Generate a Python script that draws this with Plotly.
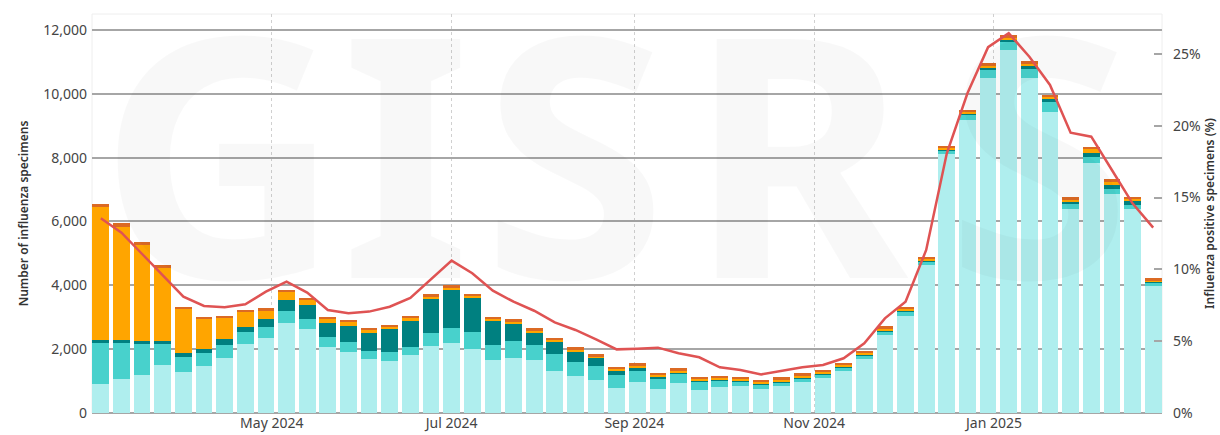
import pandas as pd
import plotly.graph_objects as go

# ---- data (weekly) ----
weeks = pd.date_range("2024-03-04", periods=52, freq="7D")

a_not_subtyped = [909, 1065, 1201, 1493, 1295, 1483, 1723, 2162, 2350, 2830, 2621, 2068, 1911, 1692, 1640, 1807,
                  2109, 2183, 2016, 1660, 1723, 1650, 1326, 1170, 1034, 794, 961, 762, 950, 721, 815, 846,
                  762, 856, 982, 1086, 1305, 1681, 2454, 3049, 4627, 8104, 9180, 10506, 11373, 10506, 9441, 6391,
                  7822, 6861, 6381, 3979]
a_h1n1 = [1295, 1139, 961, 669, 470, 407, 418, 376, 344, 355, 334, 323, 324, 261, 281, 250,
          387, 480, 511, 481, 522, 470, 512, 438, 428, 397, 355, 293, 282, 261, 188, 136,
          136, 115, 104, 125, 126, 105, 105, 126, 104, 125, 156, 261, 240, 261, 303, 178,
          209, 167, 136, 94]
a_h3 = [83, 83, 83, 104, 125, 105, 177, 146, 241, 345, 418, 418, 491, 564, 700, 815,
        1065, 1201, 1066, 741, 554, 397, 407, 334, 272, 135, 104, 83, 42, 31, 41, 21,
        21, 21, 21, 21, 31, 42, 31, 31, 31, 32, 32, 42, 73, 105, 83, 42,
        125, 105, 115, 31]
b_victoria = [4157, 3551, 3008, 2287, 1368, 971, 669, 491, 282, 261, 167, 157, 125, 83, 84, 94,
              84, 52, 73, 63, 62, 52, 42, 32, 31, 42, 53, 42, 52, 52, 42, 52,
              42, 42, 52, 42, 42, 41, 52, 52, 52, 41, 52, 52, 63, 52, 63, 62,
              115, 104, 73, 42]
b_not_determined = [104, 104, 104, 74, 63, 52, 62, 62, 62, 73, 73, 52, 63, 63, 62, 73,
                    73, 84, 73, 73, 84, 84, 73, 104, 83, 84, 83, 84, 84, 73, 84, 83,
                    83, 84, 84, 73, 73, 84, 73, 73, 73, 73, 73, 94, 104, 94, 83, 84,
                    73, 84, 73, 84]
positivity = [13.56, 12.56, 11.07, 9.61, 8.10, 7.45, 7.36, 7.57, 8.45, 9.15, 8.38, 7.17, 6.94, 7.06, 7.40, 8.02,
              9.31, 10.61, 9.73, 8.52, 7.75, 7.12, 6.31, 5.78, 5.13, 4.43, 4.48, 4.55, 4.16, 3.88, 3.18, 2.99,
              2.69, 2.95, 3.18, 3.34, 3.81, 4.85, 6.59, 7.75, 11.35, 18.08, 22.26, 25.47, 26.44, 24.81, 22.84, 19.52,
              19.24, 16.92, 14.60, 12.91]

month_ticks = ["2024-05-01", "2024-07-01", "2024-09-01", "2024-11-01", "2025-01-01"]
month_labels = ["May 2024", "Jul 2024", "Sep 2024", "Nov 2024", "Jan 2025"]
left_ticks = [0, 2000, 4000, 6000, 8000, 10000, 12000]
right_ticks = [0, 5, 10, 15, 20, 25]
right_labels = ["0%", "5%", "10%", "15%", "20%", "25%"]

series = [
    ("A (not subtyped)", a_not_subtyped, "#AFEEEE"),
    ("A(H1N1)pdm09", a_h1n1, "#48D1CC"),
    ("A(H3)", a_h3, "#008080"),
    ("B Victoria", b_victoria, "#FFA500"),
    ("B (lineage not determined)", b_not_determined, "#DB6A24"),
]

# watermark text pieces and their horizontal placement (fraction of plot width)
wm_letters = ["GI", "S", "R", "S"]
wm_frac = [0.180, 0.451, 0.660, 0.885]

FONT = "Noto Sans, Open Sans, sans-serif"

half = pd.Timedelta(days=3)
x0, x1 = weeks[0] - half, weeks[-1] + half
wm_x = [x0 + f * (x1 - x0) for f in wm_frac]

fig = go.Figure()

# faint watermark behind bars
fig.add_trace(go.Scatter(
    x=wm_x, y=[6850] * len(wm_x), mode="text", text=wm_letters,
    textfont=dict(family="Noto Sans, Open Sans, sans-serif", size=335, color="rgba(0,0,0,0.028)", weight=700),
    textposition="middle center", hoverinfo="skip", showlegend=False, cliponaxis=True,
))

for name, vals, color in series:
    fig.add_trace(go.Bar(x=weeks, y=vals, name=name, marker=dict(color=color, line=dict(width=0)),
                         showlegend=False))

fig.add_trace(go.Scatter(x=weeks, y=positivity, mode="lines", yaxis="y2", name="Positivity",
                         line=dict(color="#DF5353", width=2.5), showlegend=False))

fig.update_layout(
    width=1220, height=435,
    margin=dict(l=92, r=58, t=14, b=22, autoexpand=False),
    paper_bgcolor="white", plot_bgcolor="white",
    barmode="stack", bargap=0.19,
    font=dict(family=FONT, color="#444", size=14),
    xaxis=dict(
        type="date", range=[x0, x1],
        tickvals=month_ticks, ticktext=month_labels,
        showgrid=True, gridcolor="#d0d0d0", griddash="dot", gridwidth=1,
        showline=False, ticks="", tickfont=dict(size=14, color="#444"),
        zeroline=False,
    ),
    yaxis=dict(
        range=[0, 12500], tickvals=left_ticks, tickformat=",",
        showgrid=True, gridcolor="#a6a6a6", gridwidth=1.5,
        zeroline=True, zerolinecolor="#a6a6a6", zerolinewidth=1.5,
        ticks="", tickfont=dict(size=14, color="#444"), ticklabelstandoff=4,
        title=dict(text="Number of influenza specimens", standoff=12,
                   font=dict(size=12, color="#333", weight=600)),
    ),
    yaxis2=dict(
        overlaying="y", side="right", range=[0, 27.78], tickvals=right_ticks, ticktext=right_labels,
        showgrid=False, zeroline=False, ticks="inside", ticklen=8, tickcolor="#a6a6a6", tickwidth=1.5,
        tickfont=dict(size=14, color="#444"), showline=False, ticklabelstandoff=10,
        title=dict(text="Influenza positive specimens (%)", standoff=4,
                   font=dict(size=12, color="#333", weight=600)),
    ),
    shapes=[dict(type="rect", xref="paper", yref="paper", x0=0, x1=1, y0=0, y1=1,
                 line=dict(color="#eeeeee", width=1), fillcolor="rgba(0,0,0,0)", layer="below")],
)

fig.write_html("out.html", config={"displayModeBar": False},
               post_script="document.body.style.margin='0';document.body.style.overflow='hidden';")
